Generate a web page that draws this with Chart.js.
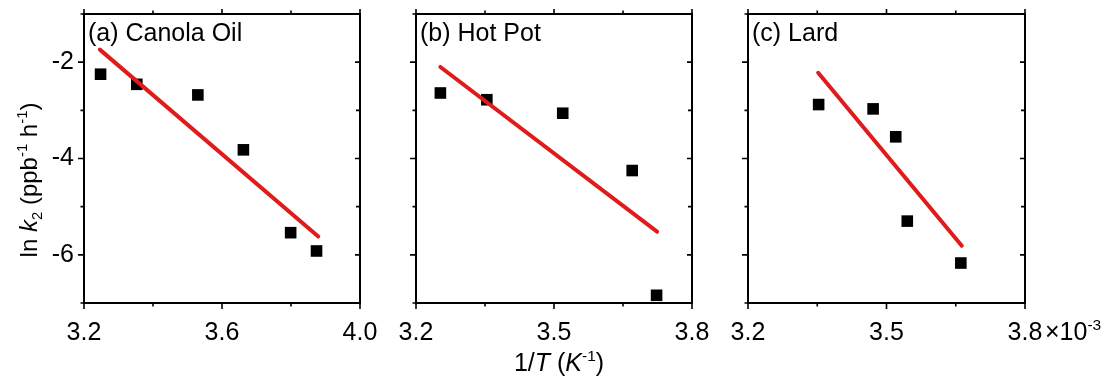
<!DOCTYPE html>
<html><head><meta charset="utf-8">
<script src="https://cdn.jsdelivr.net/npm/chart.js@4"></script>
<style>
html,body{margin:0;padding:0;background:#fff;}
#wrap{position:relative;width:1113px;height:385px;overflow:hidden;background:#fff;}
canvas{position:absolute;top:0;}
</style></head><body>
<div id="wrap">
<canvas id="ca" width="380" height="385" style="left:0px"></canvas>
<canvas id="cb" width="345" height="385" style="left:380px"></canvas>
<canvas id="cc" width="388" height="385" style="left:725px"></canvas>
</div>
<script>
// ---- data (1/T in 10^-3 K^-1, ln k2) ----
const panelTitles = ['(a) Canola Oil', '(b) Hot Pot', '(c) Lard'];
const canolaX = [3.248, 3.353, 3.530, 3.662, 3.799, 3.874];
const canolaY = [-2.25, -2.46, -2.68, -3.82, -5.54, -5.92];
const canolaFitX = [3.246, 3.879];
const canolaFitY = [-1.74, -5.62];
const hotpotX = [3.253, 3.354, 3.519, 3.670, 3.723];
const hotpotY = [-2.64, -2.78, -3.06, -4.25, -6.84];
const hotpotFitX = [3.253, 3.724];
const hotpotFitY = [-2.10, -5.52];
const lardX = [3.353, 3.471, 3.520, 3.545, 3.661];
const lardY = [-2.88, -2.97, -3.55, -5.30, -6.17];
const lardFitX = [3.352, 3.663];
const lardFitY = [-2.22, -5.81];
const xMajorA = [3.2, 3.6, 4.0];
const xMinorA = [3.4, 3.8];
const xMajorBC = [3.2, 3.5, 3.8];
const xMinorBC = [3.35, 3.65];
const yMajor = [-2, -4, -6];
const yMinor = [-1, -3, -5, -7];
const xRangeA = [3.2, 4.0];
const xRangeBC = [3.2, 3.8];
const yRange = [-7, -1];
const yTitleParts = [['ln ', ''], ['k', 'i'], ['2', 'sub'], [' (ppb', ''], ['-1', 'sup'], [' h', ''], ['-1', 'sup'], [')', '']];
const xTitleParts = [['1/', ''], ['T', 'i'], [' (', ''], ['K', 'i'], ['-1', 'sup'], [')', '']];
const multiplierParts = [['\u00d710', ''], ['-3', 'sup']];

const FAM = '"Liberation Sans", Arial, Helvetica, sans-serif';
const FS = 25;
const RED = '#e01b1b';

function pair(xs, ys) { return xs.map((x, i) => ({x: x, y: ys[i]})); }

function richWidth(ctx, parts, size) {
  let w = 0;
  for (const [t, s] of parts) {
    const sz = (s === 'sub' || s === 'sup') ? size * 0.62 : size;
    ctx.font = (s === 'i' ? 'italic ' : '') + sz + 'px ' + FAM;
    w += ctx.measureText(t).width;
  }
  return w;
}
function drawRich(ctx, parts, x, y, size, align) {
  let w = richWidth(ctx, parts, size);
  let cx = align === 'center' ? x - w / 2 : x;
  ctx.textBaseline = 'alphabetic';
  ctx.textAlign = 'left';
  ctx.fillStyle = '#000';
  for (const [t, s] of parts) {
    const small = (s === 'sub' || s === 'sup');
    const sz = small ? size * 0.62 : size;
    ctx.font = (s === 'i' ? 'italic ' : '') + sz + 'px ' + FAM;
    let dy = 0;
    if (s === 'sup') dy = -size * 0.42;
    if (s === 'sub') dy = size * 0.2;
    ctx.fillText(t, cx, y + dy);
    cx += ctx.measureText(t).width;
  }
}
function noPad(s) { s.paddingTop = 0; s.paddingBottom = 0; s.paddingLeft = 0; s.paddingRight = 0; }

function makePanel(id, cfg) {
  const plugin = {
    id: 'frame_' + id,
    afterDraw(chart) {
      const ctx = chart.ctx;
      const xs = chart.scales.x, ys = chart.scales.y;
      const L = xs.getPixelForValue(cfg.xRange[0]), R = xs.getPixelForValue(cfg.xRange[1]);
      const T = ys.getPixelForValue(yRange[1]), B = ys.getPixelForValue(yRange[0]);
      ctx.save();
      ctx.strokeStyle = '#000';
      ctx.lineWidth = 2;
      ctx.strokeRect(L, T, R - L, B - T);
      ctx.lineWidth = 1.6;
      ctx.beginPath();
      const tick = (x1, y1, x2, y2) => { ctx.moveTo(x1, y1); ctx.lineTo(x2, y2); };
      cfg.xMajor.forEach(v => { const p = xs.getPixelForValue(v); tick(p, B, p, B + 6); tick(p, T, p, T - 5); });
      cfg.xMinor.forEach(v => { const p = xs.getPixelForValue(v); tick(p, B, p, B + 3.5); tick(p, T, p, T - 3.5); });
      yMajor.forEach(v => { const p = ys.getPixelForValue(v); tick(L, p, L - 6, p); tick(R, p, R - 5, p); });
      yMinor.forEach(v => { const p = ys.getPixelForValue(v); tick(L, p, L - 3.5, p); tick(R, p, R - 4, p); });
      ctx.stroke();
      // panel title
      ctx.font = FS + 'px ' + FAM;
      ctx.fillStyle = '#000';
      ctx.textAlign = 'left';
      ctx.textBaseline = 'alphabetic';
      ctx.fillText(cfg.title, L + 4, T + 27);
      if (cfg.yTitle) {
        ctx.save();
        ctx.translate(37, 180);
        ctx.rotate(-Math.PI / 2);
        drawRich(ctx, yTitleParts, 0, 0, 24, 'center');
        ctx.restore();
      }
      if (cfg.xTitle) {
        drawRich(ctx, xTitleParts, (L + R) / 2 + 5, 371, FS, 'center');
      }
      if (cfg.multiplier) {
        drawRich(ctx, multiplierParts, R + 20, 340, FS, 'left');
      }
      ctx.restore();
    }
  };
  return new Chart(document.getElementById(id), {
    type: 'scatter',
    data: {
      datasets: [
        { data: pair(cfg.fx, cfg.fy), showLine: true, pointRadius: 0, borderColor: RED, borderWidth: 4, borderCapStyle: 'round', order: 0, clip: false },
        { data: pair(cfg.x, cfg.y), pointStyle: 'rect', pointRadius: 8.2, backgroundColor: '#000', borderWidth: 0, order: 1 }
      ]
    },
    options: {
      responsive: false,
      animation: false,
      devicePixelRatio: 1,
      layout: { padding: { top: 14, right: cfg.padRight, left: 0, bottom: 0 } },
      plugins: { legend: { display: false }, tooltip: { enabled: false }, title: { display: false } },
      scales: {
        x: {
          type: 'linear', min: cfg.xRange[0], max: cfg.xRange[1],
          grid: { display: false, drawTicks: false },
          border: { display: false },
          afterBuildTicks: s => { s.ticks = cfg.xMajor.map(v => ({ value: v })); },
          afterFit: s => { s.height = 82; noPad(s); },
          ticks: { padding: 15, color: '#000', font: { family: FAM, size: FS }, maxRotation: 0, autoSkip: false, callback: v => Number(v).toFixed(1) }
        },
        y: {
          type: 'linear', min: yRange[0], max: yRange[1],
          grid: { display: false, drawTicks: false },
          border: { display: false },
          afterBuildTicks: s => { s.ticks = yMajor.map(v => ({ value: v })); },
          afterFit: s => { s.width = cfg.yWidth; noPad(s); },
          ticks: { display: cfg.yLabels, padding: 10, color: '#000', font: { family: FAM, size: FS }, callback: v => String(v) }
        }
      }
    },
    plugins: [plugin]
  });
}

makePanel('ca', { x: canolaX, y: canolaY, fx: canolaFitX, fy: canolaFitY, title: panelTitles[0], xRange: xRangeA, xMajor: xMajorA, xMinor: xMinorA, yWidth: 84, padRight: 20, yLabels: true, yTitle: true });
makePanel('cb', { x: hotpotX, y: hotpotY, fx: hotpotFitX, fy: hotpotFitY, title: panelTitles[1], xRange: xRangeBC, xMajor: xMajorBC, xMinor: xMinorBC, yWidth: 36, padRight: 33, yLabels: false, xTitle: true });
makePanel('cc', { x: lardX, y: lardY, fx: lardFitX, fy: lardFitY, title: panelTitles[2], xRange: xRangeBC, xMajor: xMajorBC, xMinor: xMinorBC, yWidth: 23, padRight: 88, yLabels: false, multiplier: true });
</script>
</body></html>
